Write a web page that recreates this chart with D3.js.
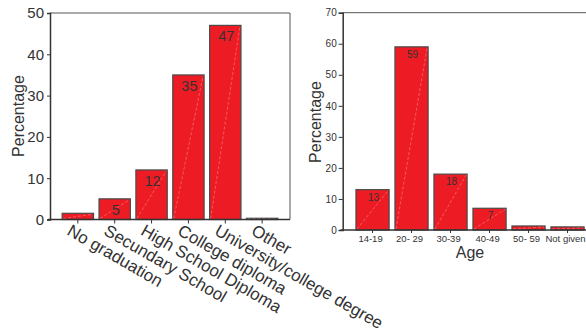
<!DOCTYPE html>
<html>
<head>
<meta charset="utf-8">
<script src="https://cdn.jsdelivr.net/npm/d3@7/dist/d3.min.js"></script>
<style>
  html, body { margin: 0; padding: 0; background: #fff; }
  svg { display: block; font-family: Arial, "Liberation Sans", Helvetica, sans-serif; }
</style>
</head>
<body>
<svg id="chart" width="586" height="329"></svg>
<script>
// Education level (left panel)
const eduCategories = ["No graduation", "Secundary School", "High School Diploma",
  "College diploma", "University/college degree", "Other"];
const eduValues = [1.5, 5, 12, 35, 47, 0.3];
const eduTicks = [0, 10, 20, 30, 40, 50];

// Age group (right panel)
const ageCategories = ["14-19", "20- 29", "30-39", "40-49", "50- 59", "Not given"];
const ageValues = [13, 59, 18, 7, 1.3, 1.0];
const ageTicks = [0, 10, 20, 30, 40, 50, 60, 70];

const RED = "#ed1c24";
const INK = "#333";
const svg = d3.select("#chart");

// values below this are too short to carry a label inside the bar
const LABEL_MIN = 5;

function drawBars(g, cats, vals, x, y, opts) {
  const bars = g.selectAll("g.bar").data(cats.map((c, i) => ({ c, v: vals[i] })))
    .join("g").attr("class", "bar");
  bars.append("rect")
    .attr("x", d => x(d.c))
    .attr("width", x.bandwidth())
    .attr("y", d => y(d.v))
    .attr("height", d => y(0) - y(d.v))
    .attr("fill", RED)
    .attr("stroke", "#4a4a4a")
    .attr("stroke-width", 1.2);
  // faint diagonal highlight across each bar
  bars.append("line")
    .attr("x1", d => x(d.c) + 1)
    .attr("y1", y(0) - 1)
    .attr("x2", d => x(d.c) + x.bandwidth() - 1)
    .attr("y2", d => y(d.v) + 1)
    .attr("stroke", "#ffb3b3")
    .attr("stroke-opacity", 0.7)
    .attr("stroke-width", 0.6)
    .attr("stroke-dasharray", "3,2");
  bars.filter(d => d.v >= LABEL_MIN).append("text")
    .attr("x", d => x(d.c) + x.bandwidth() / 2 + 1)
    .attr("y", d => y(d.v) + opts.labelOffset)
    .attr("text-anchor", "middle")
    .attr("font-size", opts.labelSize)
    .attr("fill", INK)
    .text(d => d.v);
}

// ---------- Left panel: education ----------
{
  const left = 50, right = 290, top = 13, bottom = 219.5;
  const x = d3.scaleBand(eduCategories, [left, right]).paddingInner(0.15).paddingOuter(0.33);
  const y = d3.scaleLinear([0, 50], [bottom, top]);
  const g = svg.append("g");

  // frame
  g.append("path")
    .attr("d", `M${left},${top}H${right}V${bottom}`)
    .attr("fill", "none").attr("stroke", "#555").attr("stroke-width", 1);

  drawBars(g, eduCategories, eduValues, x, y, { labelOffset: 16, labelSize: 14.5 });

  const ya = g.append("g").attr("transform", `translate(${left},0)`)
    .call(d3.axisLeft(y).tickValues(eduTicks).tickSize(3).tickPadding(3));
  ya.select(".domain").attr("stroke", INK).attr("stroke-width", 1.5);
  ya.selectAll(".tick line").attr("stroke", INK);
  ya.selectAll(".tick text").attr("font-size", 15).attr("fill", INK).attr("font-family", null);

  const xa = g.append("g").attr("transform", `translate(0,${bottom})`)
    .call(d3.axisBottom(x).tickSize(4).tickSizeOuter(0));
  xa.select(".domain").attr("stroke", INK).attr("stroke-width", 1.5)
    .attr("d", `M${left - 2},0H${right}`);
  xa.selectAll(".tick line").attr("stroke", INK);
  xa.selectAll(".tick text")
    .attr("font-size", 17).attr("fill", INK).attr("font-family", null)
    .attr("text-anchor", "start")
    .attr("dy", null)
    .attr("x", -3).attr("y", 18.5)
    .attr("transform", "rotate(30)");

  g.append("text")
    .attr("transform", `translate(24,116) rotate(-90)`)
    .attr("text-anchor", "middle")
    .attr("font-size", 16).attr("fill", INK)
    .text("Percentage");
}

// ---------- Right panel: age ----------
{
  const left = 342.7, step = 39, top = 12.7, bottom = 230;
  const right = left + step * (6 - 0.15 + 2 * 0.34);
  const x = d3.scaleBand(ageCategories, [left, right]).paddingInner(0.15).paddingOuter(0.34);
  const y = d3.scaleLinear([0, 70], [bottom, top]);
  const g = svg.append("g");

  g.append("path")
    .attr("d", `M${left},${top}H${right}V${bottom}`)
    .attr("fill", "none").attr("stroke", "#555").attr("stroke-width", 1);

  drawBars(g, ageCategories, ageValues, x, y, { labelOffset: 11, labelSize: 10 });

  const ya = g.append("g").attr("transform", `translate(${left},0)`)
    .call(d3.axisLeft(y).tickValues(ageTicks).tickSize(4).tickPadding(2));
  ya.select(".domain").attr("stroke", INK).attr("stroke-width", 1.5);
  ya.selectAll(".tick line").attr("stroke", INK);
  ya.selectAll(".tick text").attr("font-size", 10).attr("fill", INK).attr("font-family", null);

  const xa = g.append("g").attr("transform", `translate(0,${bottom})`)
    .call(d3.axisBottom(x).tickSize(3).tickSizeOuter(0).tickPadding(2));
  xa.select(".domain").attr("stroke", INK).attr("stroke-width", 1.5)
    .attr("d", `M${left - 2},0H${right}`);
  xa.selectAll(".tick line").attr("stroke", INK);
  xa.selectAll(".tick text").attr("font-size", 9.5).attr("fill", INK).attr("font-family", null)
    .attr("dx", -2);

  g.append("text")
    .attr("x", (left + right) / 2).attr("y", 257.5)
    .attr("text-anchor", "middle")
    .attr("font-size", 16).attr("fill", INK)
    .text("Age");

  g.append("text")
    .attr("transform", `translate(320.5,122) rotate(-90)`)
    .attr("text-anchor", "middle")
    .attr("font-size", 16).attr("fill", INK)
    .text("Percentage");
}
</script>
</body>
</html>
